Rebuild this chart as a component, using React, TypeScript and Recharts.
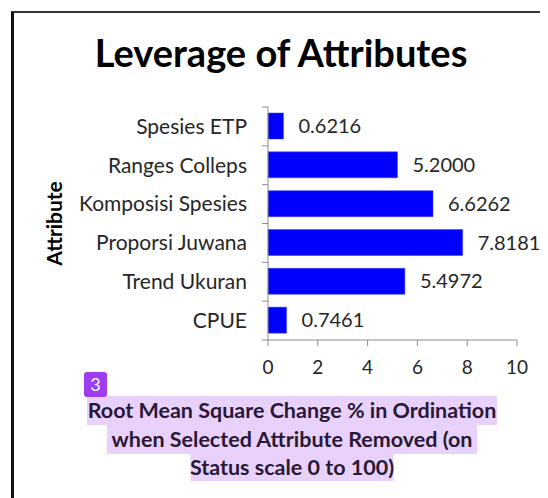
import { BarChart, Bar, XAxis, YAxis, LabelList, Label } from 'recharts';

const attributes = [
  'Spesies ETP',
  'Ranges Colleps',
  'Komposisi Spesies',
  'Proporsi Juwana',
  'Trend Ukuran',
  'CPUE',
];
const leverage = [0.6216, 5.2, 6.6262, 7.8181, 5.4972, 0.7461];
const xTicks = [0, 2, 4, 6, 8, 10];
const xTitleLines = [
  'Root Mean Square Change % in Ordination',
  'when Selected Attribute Removed (on',
  'Status scale 0 to 100)',
];

const data = attributes.map((name, i) => ({ name, value: leverage[i] }));

const FONT = 'Lato, "Open Sans", sans-serif';
const AXIS_GRAY = '#8c8c8c';

const CategoryTick = (props: any) => {
  const { x, y, payload, index, visibleTicksCount } = props;
  const half = payload.offset ?? 19.4;
  const axisX = x + 21;
  return (
    <g>
      <line x1={axisX - 6} x2={axisX} y1={y - half} y2={y - half} stroke={AXIS_GRAY} />
      {index === visibleTicksCount - 1 && (
        <line x1={axisX - 6} x2={axisX} y1={y + half} y2={y + half} stroke={AXIS_GRAY} />
      )}
      <text x={x} y={y} dy="0.35em" textAnchor="end" fill="#262626" fontSize={21} fontFamily={FONT}>
        {payload.value}
      </text>
    </g>
  );
};

// highlighted x axis title, like the reference's marked-up caption
const XTitle = (props: any) => {
  const { viewBox } = props;
  const cx = viewBox.x + viewBox.width / 2 - 100.5;
  const top = viewBox.y;
  const boxes = [
    { w: 410, y: 56 },
    { w: 370, y: 85 },
    { w: 203, y: 114 },
  ];
  return (
    <g>
      {boxes.map((b, i) => (
        <rect key={i} x={cx - b.w / 2} y={top + b.y} width={b.w} height={i === 2 ? 27 : 29} fill="#e8d2fc" />
      ))}
      <rect x={cx - 208} y={top + 32} width={23} height={25} rx={3} fill="#9d3cf0" />
      <text x={cx - 196.5} y={top + 51} textAnchor="middle" fill="#fff" fontSize={18} fontFamily={FONT}>
        3
      </text>
      {xTitleLines.map((line, i) => (
        <text
          key={line}
          x={cx}
          y={top + 78 + i * 28.5}
          textAnchor="middle"
          fill="#2a1836"
          fontSize={21.5}
          fontWeight="bold"
          fontFamily={FONT}
        >
          {line}
        </text>
      ))}
    </g>
  );
};

export default function App() {
  return (
    <div style={{ position: 'relative', width: 540, height: 490, background: '#fff' }}>
      <div
        style={{
          position: 'absolute',
          left: 3,
          top: 3,
          right: 0,
          bottom: 0,
          borderLeft: '3px solid #111',
          borderTop: '2px solid #333',
        }}
      />
      <div
        style={{
          position: 'absolute',
          left: 0,
          width: 546,
          top: 21,
          textAlign: 'center',
          fontFamily: FONT,
          fontWeight: 'bold',
          fontSize: 38,
          color: '#000',
        }}
      >
        Leverage of Attributes
      </div>
      <div style={{ position: 'absolute', left: 0, top: 0 }}>
        <BarChart
          width={540}
          height={490}
          data={data}
          layout="vertical"
          margin={{ top: 99, right: 31, bottom: 8, left: 0 }}
          barSize={26}
        >
          <XAxis
            type="number"
            domain={[0, 10]}
            ticks={xTicks}
            tickSize={6}
            tickMargin={15}
            height={150}
            stroke={AXIS_GRAY}
            tick={{ fill: '#262626', fontSize: 19, fontFamily: FONT }}
          >
            <Label content={<XTitle />} />
          </XAxis>
          <YAxis
            type="category"
            dataKey="name"
            width={260}
            tickSize={6}
            tickMargin={15}
            tickLine={false}
            stroke={AXIS_GRAY}
            tick={<CategoryTick />}
            interval={0}
          >
            <Label
              value="Attribute"
              angle={-90}
              position="insideLeft"
              offset={47}
              style={{ fontFamily: FONT, fontWeight: 'bold', fontSize: 21, fill: '#000', textAnchor: 'middle' }}
            />
          </YAxis>
          <Bar dataKey="value" fill="#0000ff" stroke="#3f3fff" strokeWidth={0.5} isAnimationActive={false}>
            <LabelList
              dataKey="value"
              position="right"
              offset={15}
              formatter={(v: any) => Number(v).toFixed(4)}
              style={{ fill: '#262626', fontSize: 20, fontFamily: FONT }}
            />
          </Bar>
        </BarChart>
      </div>
    </div>
  );
}
